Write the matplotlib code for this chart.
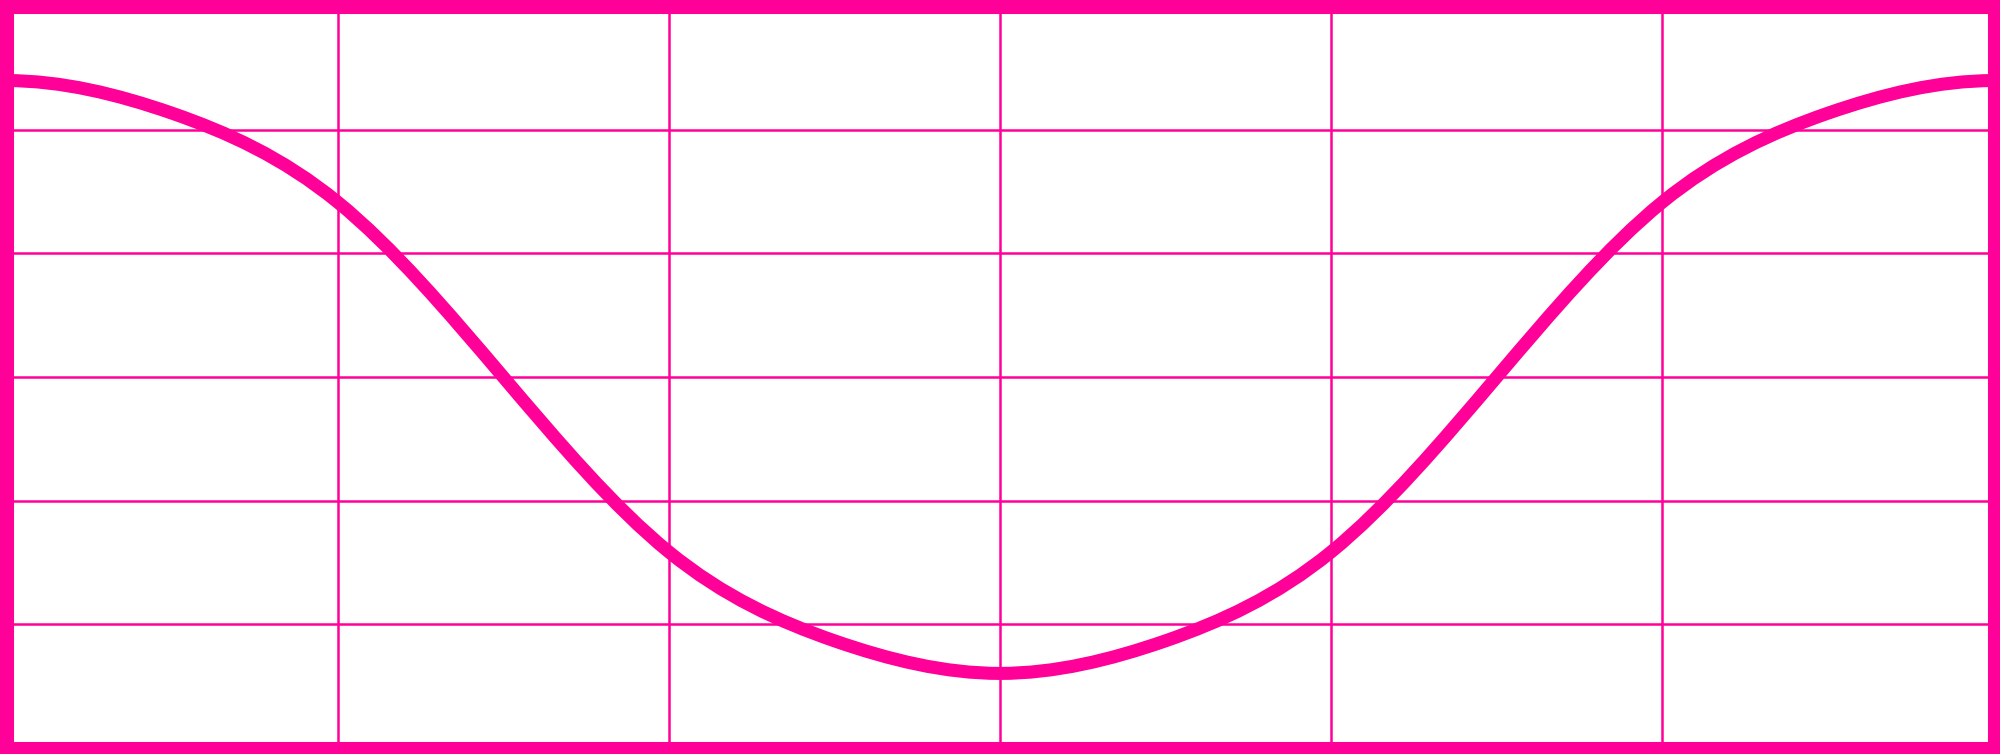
import numpy as np
import matplotlib
matplotlib.use('Agg')
import matplotlib.pyplot as plt
from matplotlib.path import Path
from matplotlib.patches import PathPatch

# 数据（从图中读取，每 1/12 宽度一个点）
x_vals = [0, 1, 2, 3, 4, 5, 6, 7, 8, 9, 10, 11, 12]
y_vals = [1.0, 0.89, 0.59, 0.0, -0.59, -0.89, -1.0, -0.89, -0.59, 0.0, 0.59, 0.89, 1.0]

COLOR = '#ff0099'
DPI = 100
W, H = 2000, 754


def spline_tangents(x, y):
    """三次样条（两端斜率为 0）在各节点处的切线"""
    x = np.asarray(x, float)
    y = np.asarray(y, float)
    n = len(x)
    h = np.diff(x)
    A = np.zeros((n, n))
    b = np.zeros(n)
    A[0, 0] = 1.0
    A[-1, -1] = 1.0
    for i in range(1, n - 1):
        A[i, i - 1] = 1.0 / h[i - 1]
        A[i, i] = 2.0 / h[i - 1] + 2.0 / h[i]
        A[i, i + 1] = 1.0 / h[i]
        b[i] = 3.0 * ((y[i] - y[i - 1]) / h[i - 1] ** 2 + (y[i + 1] - y[i]) / h[i] ** 2)
    return np.linalg.solve(A, b)


def smooth_path(x, y):
    t = spline_tangents(x, y)
    verts = [(x[0], y[0])]
    codes = [Path.MOVETO]
    for i in range(len(x) - 1):
        h = x[i + 1] - x[i]
        verts += [(x[i] + h / 3, y[i] + t[i] * h / 3),
                  (x[i + 1] - h / 3, y[i + 1] - t[i + 1] * h / 3),
                  (x[i + 1], y[i + 1])]
        codes += [Path.CURVE4] * 3
    return Path(verts, codes)


fig = plt.figure(figsize=(W / DPI, H / DPI), dpi=DPI)
# 画布边框（线宽一半落在画布外）
fig.patch.set_facecolor('white')
fig.patch.set_edgecolor(COLOR)
fig.patch.set_linewidth(18.8)

pad = 6.5
ax = fig.add_axes([pad / W, pad / H, (W - 2 * pad) / W, (H - 2 * pad) / H])
ax.set_xlim(0, 12)
ax.set_ylim(-1.25, 1.25)

ax.set_xticks([2, 4, 6, 8, 10])
ax.set_yticks(np.linspace(-1.25, 1.25, 7)[1:-1])
ax.tick_params(length=0, labelbottom=False, labelleft=False)
ax.set_axisbelow(True)
ax.grid(True, color=COLOR, linewidth=1.8)

for sp in ax.spines.values():
    sp.set_color(COLOR)
    sp.set_linewidth(9.4)

ax.add_patch(PathPatch(smooth_path(x_vals, y_vals), facecolor='none',
                       edgecolor=COLOR, linewidth=9.4, capstyle='butt'))

fig.savefig('out.png', dpi=DPI, facecolor='white', edgecolor=COLOR)
